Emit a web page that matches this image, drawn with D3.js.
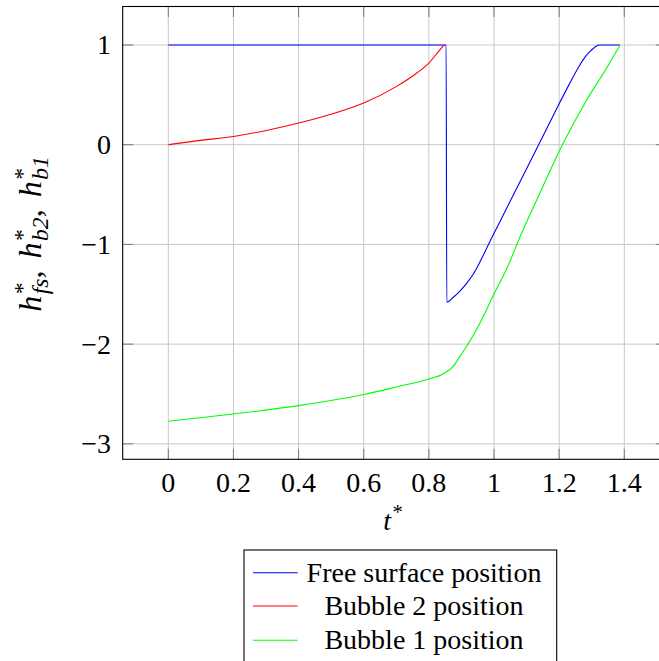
<!DOCTYPE html>
<html>
<head>
<meta charset="utf-8">
<script src="https://cdn.jsdelivr.net/npm/d3@7"></script>
<style>
  html, body { margin: 0; padding: 0; background: #fff; }
  svg { display: block; }
</style>
</head>
<body>
<svg id="chart" width="659" height="661"></svg>
<script>
// Dimensionless heights over dimensionless time
const freeSurface = [
  [0, 1], [0.853, 1], [0.855, -1.58], [0.875, -1.53], [0.896, -1.465], [0.916, -1.39],
  [0.936, -1.30], [0.957, -1.175], [0.983, -1.0], [1.02, -0.76], [1.06, -0.5], [1.1, -0.24],
  [1.137, 0], [1.17, 0.215], [1.2, 0.41], [1.23, 0.6], [1.26, 0.78], [1.28, 0.88],
  [1.295, 0.935], [1.305, 0.965], [1.315, 0.99], [1.322, 1.0], [1.387, 1.0]
];
const bubble2 = [
  [0, 0], [0.098, 0.043], [0.2, 0.083], [0.302, 0.143], [0.4, 0.217], [0.502, 0.308],
  [0.6, 0.418], [0.701, 0.585], [0.763, 0.719], [0.8, 0.819], [0.834, 0.952], [0.847, 1.0]
];
const bubble1 = [
  [0, -2.774], [0.2, -2.7], [0.4, -2.617], [0.6, -2.506], [0.7, -2.43], [0.8, -2.349],
  [0.839, -2.306], [0.855, -2.275], [0.875, -2.222], [0.896, -2.12], [0.916, -2.022],
  [0.957, -1.788], [0.998, -1.51], [1.049, -1.17], [1.07, -1.0], [1.141, -0.484],
  [1.21, 0], [1.285, 0.451], [1.346, 0.77], [1.387, 1.0]
];
const xTicks = [0, 0.2, 0.4, 0.6, 0.8, 1, 1.2, 1.4];
const xTickLabels = ["0", "0.2", "0.4", "0.6", "0.8", "1", "1.2", "1.4"];
const yTicks = [-3, -2, -1, 0, 1];
const yTickLabels = ["\u22123", "\u22122", "\u22121", "0", "1"];
const seriesNames = ["Free surface position", "Bubble 2 position", "Bubble 1 position"];
const seriesColors = ["#0000ff", "#ff0000", "#00ff00"];
const seriesData = [freeSurface, bubble2, bubble1];

const FONT = "'Liberation Serif', 'Times New Roman', 'DejaVu Serif', serif";
const svg = d3.select("#chart").attr("font-family", FONT);
const plot = { left: 122.7, top: 6.5, right: 666.3, bottom: 459.3 };
const x = d3.scaleLinear().domain([-0.14, 1.529]).range([plot.left, plot.right]);
const y = d3.scaleLinear().domain([-3.155, 1.386]).range([plot.bottom, plot.top]);
const fontSize = 28;

// grid
const grid = svg.append("g").attr("stroke", "#c8c8c8").attr("stroke-width", 1);
grid.selectAll("line.gx").data(xTicks).join("line")
  .attr("x1", d => x(d)).attr("x2", d => x(d))
  .attr("y1", plot.top).attr("y2", plot.bottom);
grid.selectAll("line.gy").data(yTicks).join("line")
  .attr("x1", plot.left).attr("x2", plot.right)
  .attr("y1", d => y(d)).attr("y2", d => y(d));

// inward tick marks
const tickLen = 10.5;
const ticks = svg.append("g").attr("stroke", "#7a7a7a").attr("stroke-width", 1);
xTicks.forEach(d => {
  ticks.append("line").attr("x1", x(d)).attr("x2", x(d)).attr("y1", plot.bottom).attr("y2", plot.bottom - tickLen);
  ticks.append("line").attr("x1", x(d)).attr("x2", x(d)).attr("y1", plot.top).attr("y2", plot.top + tickLen);
});
yTicks.forEach(d => {
  ticks.append("line").attr("x1", plot.left).attr("x2", plot.left + tickLen).attr("y1", y(d)).attr("y2", y(d));
  ticks.append("line").attr("x1", plot.right).attr("x2", plot.right - tickLen).attr("y1", y(d)).attr("y2", y(d));
});

// series
const line = d3.line().x(d => x(d[0])).y(d => y(d[1])).curve(d3.curveMonotoneX);
seriesData.forEach((data, i) => {
  svg.append("path").datum(data)
    .attr("fill", "none").attr("stroke", seriesColors[i]).attr("stroke-width", 1.1)
    .attr("stroke-linejoin", "round")
    .attr("d", line);
});

// frame
svg.append("rect")
  .attr("x", plot.left).attr("y", plot.top)
  .attr("width", plot.right - plot.left).attr("height", plot.bottom - plot.top)
  .attr("fill", "none").attr("stroke", "#000").attr("stroke-width", 1.1);

// tick labels
svg.append("g").selectAll("text").data(xTicks).join("text")
  .attr("x", d => x(d)).attr("y", 492)
  .attr("text-anchor", "middle").attr("font-size", fontSize)
  .text((d, i) => xTickLabels[i]);
svg.append("g").selectAll("text").data(yTicks).join("text")
  .attr("x", 111).attr("y", d => y(d) + 9.5)
  .attr("text-anchor", "end").attr("font-size", fontSize)
  .text((d, i) => yTickLabels[i]);

// math-style label: list of runs {t, size, italic, dx, dy}
function textWidth(str, size, italic) {
  const t = svg.append("text").attr("font-size", size)
    .attr("font-style", italic ? "italic" : "normal").text(str);
  const w = t.node().getComputedTextLength();
  t.remove();
  return w;
}
function symRuns(base, sup, sub, size) {
  const s = size * 0.74, up = 11, down = 7;
  const runs = [{ t: base, size, italic: true, dx: 0, dy: 0 },
                { t: sup, size: s, italic: false, dx: 1.5, dy: -up }];
  if (sub) {
    runs.push({ t: sub, size: s, italic: true, dx: -textWidth(sup, s, false), dy: up + down });
    runs.back = -down;
  } else {
    runs.back = up;
  }
  return runs;
}
function drawMath(el, groups, gap) {
  let carry = 0;
  groups.forEach((g, gi) => {
    g.forEach((r, ri) => {
      el.append("tspan").attr("font-size", r.size)
        .attr("font-style", r.italic ? "italic" : "normal")
        .attr("dx", r.dx + (ri === 0 && gi > 0 ? gap : 0))
        .attr("dy", r.dy + (ri === 0 ? carry : 0))
        .text(r.t);
    });
    carry = g.back;
    if (gi < groups.length - 1) {
      el.append("tspan").attr("dy", carry).text(",\u00a0");
      carry = 0;
    }
  });
}

// x axis title
const xt = svg.append("text").attr("x", 393).attr("y", 530)
  .attr("text-anchor", "middle").attr("font-size", fontSize);
drawMath(xt, [symRuns("t", "*", null, fontSize)], 0);

// y axis title
const ySize = 32;
const yt = svg.append("text").attr("transform", "translate(41,234) rotate(-90)")
  .attr("text-anchor", "middle").attr("font-size", ySize);
drawMath(yt, [symRuns("h", "*", "fs", ySize), symRuns("h", "*", "b2", ySize), symRuns("h", "*", "b1", ySize)], 4);

// legend
const lg = svg.append("g");
lg.append("rect").attr("x", 244).attr("y", 550).attr("width", 312.7).attr("height", 130)
  .attr("fill", "#fff").attr("stroke", "#000").attr("stroke-width", 1.1);
const rowY = [572.7, 606, 640.3];
seriesNames.forEach((name, i) => {
  lg.append("line").attr("x1", 253).attr("x2", 297.7).attr("y1", rowY[i]).attr("y2", rowY[i])
    .attr("stroke", seriesColors[i]).attr("stroke-width", 1.1);
  lg.append("text").attr("x", 424).attr("y", rowY[i] + 9)
    .attr("text-anchor", "middle").attr("font-size", fontSize).text(name);
});
</script>
</body>
</html>
